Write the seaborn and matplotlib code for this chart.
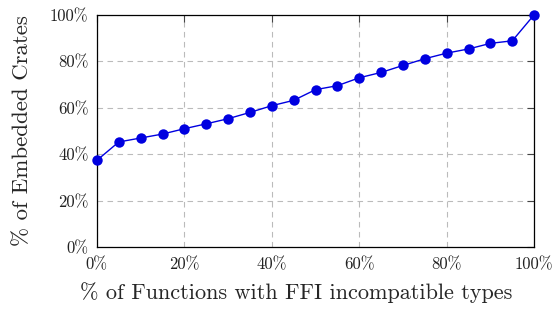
import matplotlib
matplotlib.use("Agg")
import matplotlib.pyplot as plt
import seaborn as sns
import pandas as pd
from matplotlib.ticker import PercentFormatter

fn_share = [0, 5, 10, 15, 20, 25, 30, 35, 40, 45, 50,
            55, 60, 65, 70, 75, 80, 85, 90, 95, 100]
crate_share = [37.4, 45.3, 47.0, 48.7, 51.0, 53.1, 55.3, 58.0, 60.9, 63.2, 67.8,
               69.5, 72.9, 75.2, 78.2, 81.1, 83.5, 85.3, 87.7, 88.8, 100.0]
ticks = [0, 20, 40, 60, 80, 100]

df = pd.DataFrame({"fn": fn_share, "crates": crate_share})

sns.set_style("white")
plt.rcParams["font.family"] = ["cmr10", "DejaVu Serif"]
plt.rcParams["axes.unicode_minus"] = False

fig = plt.figure(figsize=(5.57, 3.14), dpi=100)
ax = fig.add_axes([0.174, 0.2124, 0.785, 0.7406])

sns.lineplot(data=df, x="fn", y="crates", ax=ax, color="#0000e0",
             marker="o", markersize=7.5, markeredgewidth=0, linewidth=1,
             clip_on=False, zorder=5)

ax.set_xlim(0, 100)
ax.set_ylim(0, 100)
ax.set_xticks(ticks)
ax.set_yticks(ticks)
ax.xaxis.set_major_formatter(PercentFormatter(decimals=0))
ax.yaxis.set_major_formatter(PercentFormatter(decimals=0))
ax.grid(True, linestyle=(0, (5, 4)), color="#bbbbbb", linewidth=0.8)
ax.tick_params(direction="in", length=5, width=0.8, color="#444444",
               top=True, right=True, labelsize=12, labelcolor="#222222")
ax.tick_params(axis="x", pad=7)
ax.tick_params(axis="y", pad=6)
for s in ax.spines.values():
    s.set_linewidth(0.9)
    s.set_color("black")

ax.set_xlabel("% of Functions with FFI incompatible types", fontsize=16)
ax.xaxis.set_label_coords(0.455, -0.148)
ax.set_ylabel("% of Embedded Crates", fontsize=16.5, labelpad=13)

fig.savefig("out.png", dpi=100)
